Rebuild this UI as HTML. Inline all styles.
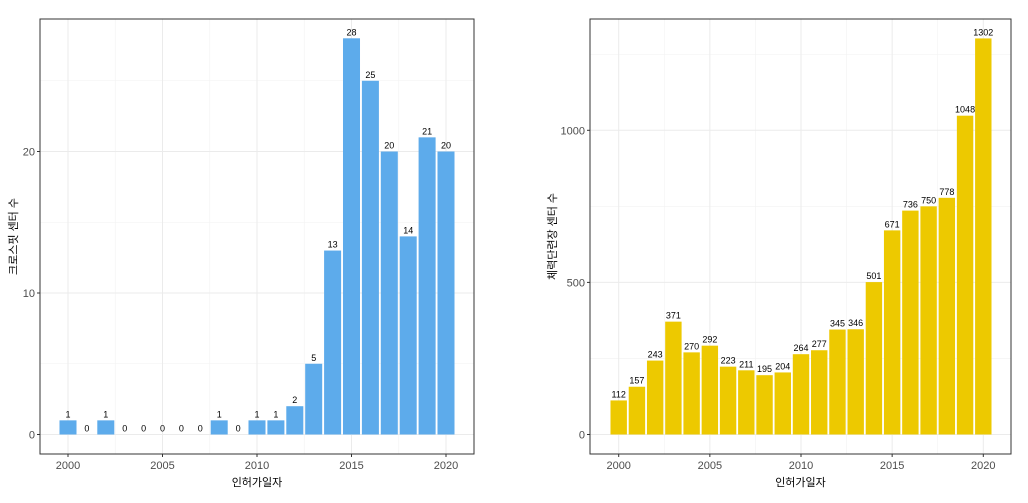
<!DOCTYPE html>
<html><head><meta charset="utf-8"><style>
body{margin:0;background:#fff;}
svg text{font-family:"Liberation Sans","Noto Sans CJK KR",sans-serif;}
</style></head><body>
<svg id="c" width="1028" height="498" xmlns="http://www.w3.org/2000/svg"></svg>
<script>
const years = [2000,2001,2002,2003,2004,2005,2006,2007,2008,2009,2010,2011,2012,2013,2014,2015,2016,2017,2018,2019,2020];
const crossfitValues = [1,0,1,0,0,0,0,0,1,0,1,1,2,5,13,28,25,20,14,21,20];
const gymValues = [112,157,243,371,270,292,223,211,195,204,264,277,345,346,501,671,736,750,778,1048,1302];
const xTicks = [2000,2005,2010,2015,2020];
const leftYTicks = [0,10,20];
const leftYMinor = [5,15,25];
const rightYTicks = [0,500,1000];
const rightYMinor = [250,750,1250];

const svg = document.getElementById('c');
const NS = 'http://www.w3.org/2000/svg';
function mk(tag, attrs, parent){const e=document.createElementNS(NS,tag);for(const k in attrs)e.setAttribute(k,attrs[k]);(parent||svg).appendChild(e);return e;}

function panel(cfg){
  const g = mk('g',{});
  
  
  const xs = v => cfg.x0 + (v-2000)*cfg.xStep;
  const ys = v => cfg.y0 - v*cfg.yScale;
  // minor grid
  cfg.minor.forEach(v=>{mk('line',{x1:cfg.L,x2:cfg.R,y1:ys(v),y2:ys(v),stroke:'#f2f2f2','stroke-width':0.6},g);});
  [2002.5,2007.5,2012.5,2017.5].forEach(v=>{mk('line',{x1:xs(v),x2:xs(v),y1:cfg.T,y2:cfg.B,stroke:'#f2f2f2','stroke-width':0.6},g);});
  cfg.yTicks.forEach(v=>{const l=mk('line',{x1:cfg.L,x2:cfg.R,y1:ys(v),y2:ys(v),stroke:'#ebebeb','stroke-width':1},g);
    });
  xTicks.forEach(v=>{mk('line',{x1:xs(v),x2:xs(v),y1:cfg.T,y2:cfg.B,stroke:'#ebebeb','stroke-width':1},g);});
  // bars
  cfg.values.forEach((v,i)=>{
    const yr=years[i], bw=cfg.xStep*0.9;
    if(v>0){
      const r=mk('rect',{x:xs(yr)-bw/2,y:ys(v),width:bw,height:ys(0)-ys(v),fill:cfg.color},g);
      
      
    }
    const t=mk('text',{x:xs(yr),y:ys(v)-3,'text-anchor':'middle','font-size':9,fill:'#000'},g);
    t.textContent=v;
    
    
  });
  // border
  const b=mk('rect',{x:cfg.L,y:cfg.T,width:cfg.R-cfg.L,height:cfg.B-cfg.T,fill:'none',stroke:'#333','stroke-width':1},g);
  
  // y ticks
  cfg.yTicks.forEach(v=>{
    mk('line',{x1:cfg.L-3,x2:cfg.L,y1:ys(v),y2:ys(v),stroke:'#333'},g);
    const t=mk('text',{x:cfg.L-5,y:ys(v)+4,'text-anchor':'end','font-size':11,fill:'#4d4d4d'},g);
    t.textContent=v;
    
    
  });
  xTicks.forEach(v=>{
    mk('line',{x1:xs(v),x2:xs(v),y1:cfg.B,y2:cfg.B+3,stroke:'#333'},g);
    const t=mk('text',{x:xs(v),y:cfg.B+15,'text-anchor':'middle','font-size':11,fill:'#4d4d4d'},g);
    t.textContent=v;
    
    
  });
  const xt=mk('text',{x:(cfg.L+cfg.R)/2,y:486,'text-anchor':'middle','font-size':11,fill:'#000'},g);
  xt.textContent='인허가일자';
  
  
  const yt=mk('text',{x:0,y:0,'text-anchor':'middle','font-size':11,fill:'#000',transform:`translate(${cfg.ytx},${(cfg.T+cfg.B)/2}) rotate(-90)`},g);
  yt.textContent=cfg.ytitle;
  
  
}
panel({name:'crossfit-panel',L:40,R:474,T:19,B:454,x0:68,xStep:18.9,y0:434.5,yScale:14.15,values:crossfitValues,color:'#5dabeb',yTicks:leftYTicks,minor:leftYMinor,ytitle:'크로스핏 센터 수',ytx:17});
panel({name:'gym-panel',L:590,R:1011,T:19,B:454,x0:618.7,xStep:18.23,y0:434.5,yScale:0.3042,values:gymValues,color:'#edc900',yTicks:rightYTicks,minor:rightYMinor,ytitle:'체력단련장 센터 수',ytx:556});
</script>
</body></html>
